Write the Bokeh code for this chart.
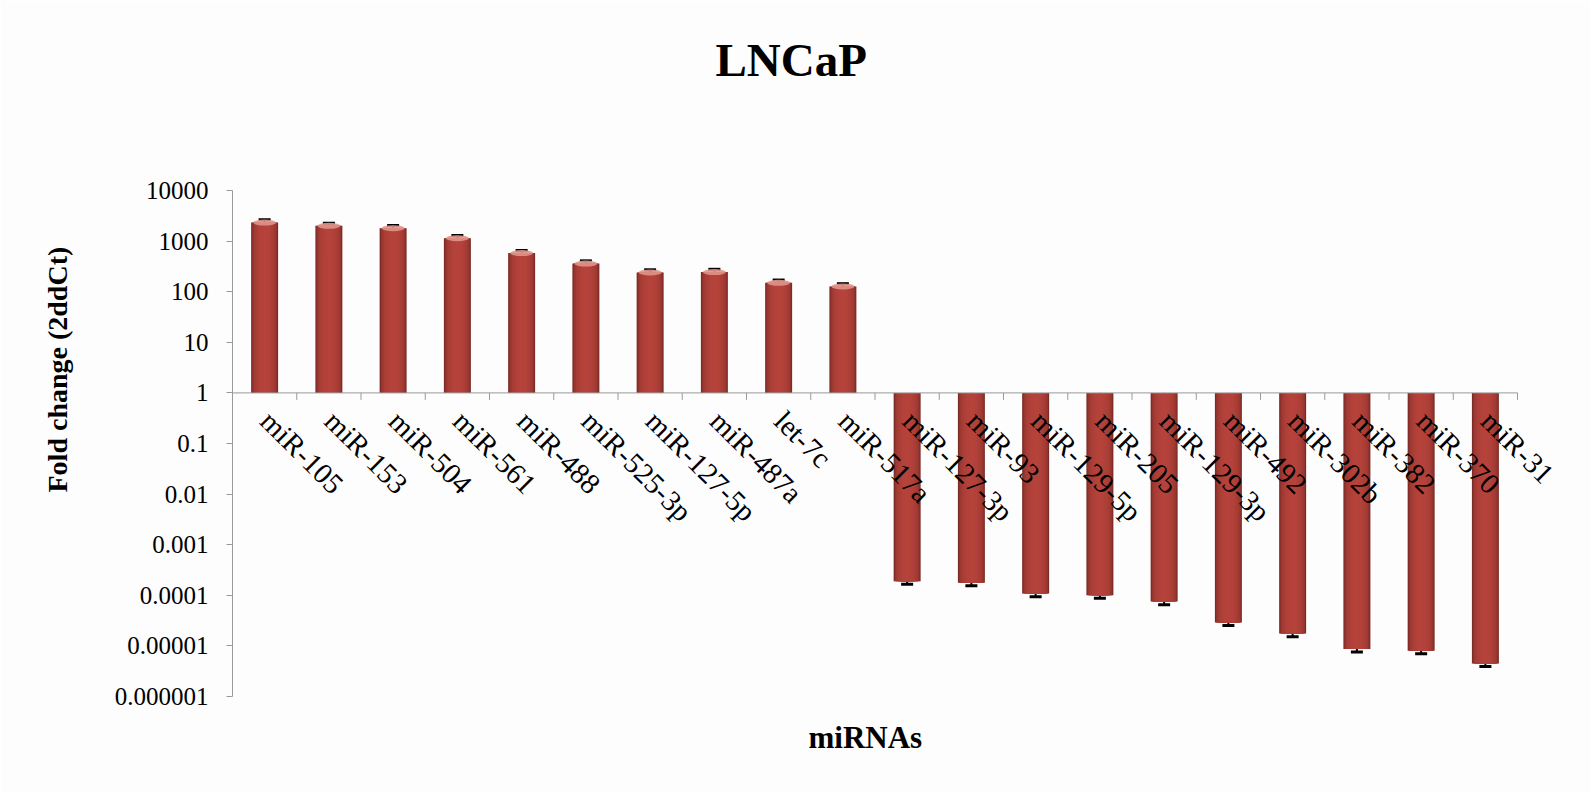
import math

from bokeh.embed import file_html
from bokeh.models import (ColumnDataSource, CustomJSTickFormatter, FixedTicker,
                          LabelSet, Range1d, TeeHead, Title, Whisker)
from bokeh.plotting import figure
from bokeh.resources import INLINE

# Fold change (2^-ddCt) of miRNAs in LNCaP cells
mirnas = ["miR-105", "miR-153", "miR-504", "miR-561", "miR-488", "miR-525-3p",
          "miR-127-5p", "miR-487a", "let-7c", "miR-517a", "miR-127-3p", "miR-93",
          "miR-129-5p", "miR-205", "miR-129-3p", "miR-492", "miR-302b", "miR-382",
          "miR-370", "miR-31"]
fold_change = [2330, 2000, 1800, 1140, 580, 360, 240, 245, 150, 127,
               1.9e-4, 1.78e-4, 1.08e-4, 1.0e-4, 7.5e-5, 2.9e-5, 1.75e-5,
               8.7e-6, 8.0e-6, 4.5e-6]
fold_err = [300, 260, 230, 150, 75, 47, 31, 32, 20, 17,
            2.5e-5, 2.3e-5, 1.4e-5, 1.3e-5, 1.0e-5, 3.8e-6, 2.3e-6,
            1.1e-6, 1.0e-6, 6e-7]
y_ticks = [1e-6, 1e-5, 1e-4, 1e-3, 1e-2, 1e-1, 1, 10, 100, 1000, 10000]

SERIF = "Liberation Serif"
W, H = 1590, 792
n = len(mirnas)

# slot i spans [i, i + 1] on the x scale; some room is left past the
# last slot so its slanted label is not cut at the plot edge
X_END = n + 0.7
LEFT, TOP, BOTTOM = 232, 190, 96
slot_px = 64.25
RIGHT = W - LEFT - int(round(X_END * slot_px))

src = ColumnDataSource(dict(
    x=[i + 0.5 for i in range(n)],
    mirna=mirnas,
    fc=fold_change,
    upper=[v + e for v, e in zip(fold_change, fold_err)],
    lower=[v - e for v, e in zip(fold_change, fold_err)],
    base=[1] * n,
))
pos_src = ColumnDataSource(dict(
    x=[i + 0.5 for i, v in enumerate(fold_change) if v > 1],
    fc=[v for v in fold_change if v > 1],
))

p = figure(width=W, height=H, x_range=Range1d(0, X_END), y_axis_type="log",
           y_range=(1e-6, 1e4), output_backend="svg", toolbar_location=None,
           title=None, min_border_left=LEFT, min_border_right=RIGHT,
           min_border_top=TOP, min_border_bottom=BOTTOM,
           background_fill_color="#fdfdfd", border_fill_color="#fdfdfd",
           outline_line_color=None)
p.xaxis.visible = False
p.xgrid.visible = False
p.ygrid.visible = False

# shaded bars: nested bars, lighter toward the middle, give a rounded look
BAR_W = 0.42
N = 12
edge = (84, 26, 24)
mid = (182, 68, 60)
for k in range(N):
    t = 1 - k / N
    f = math.sqrt(max(0.0, 1 - (t * 0.98) ** 2)) ** 0.55
    col = tuple(int(edge[i] + (mid[i] - edge[i]) * f) for i in range(3))
    p.vbar(x="x", top="fc", bottom="base", width=BAR_W * t, source=src,
           fill_color="#%02x%02x%02x" % col, line_color=None)

# light top face on the upward bars
p.ellipse(x="x", y="fc", width=BAR_W * 0.85, height=6, height_units="screen",
          source=pos_src, fill_color="#e0948a", line_color=None, fill_alpha=0.9)

# error bars
p.add_layout(Whisker(base="x", upper="upper", lower="lower", source=src,
                     line_color="black", line_width=2,
                     upper_head=TeeHead(size=12, line_width=3, line_color="black"),
                     lower_head=TeeHead(size=12, line_width=3, line_color="black")))

# category axis drawn through y = 1, with ticks between the slots
p.segment(x0=0, x1=n, y0=1, y1=1, line_color="#9a9a9a", line_width=1)
p.ray(x=list(range(1, n + 1)), y=1, length=7, length_units="screen",
      angle=-math.pi / 2, line_color="#9a9a9a", line_width=1)
p.add_layout(LabelSet(x="x", y="base", text="mirna", source=src,
                      angle=-math.pi / 4, text_align="left", text_baseline="middle",
                      x_offset=1, y_offset=-23, text_font=SERIF,
                      text_font_size="29px", text_color="black"))

# value axis
ax = p.yaxis[0]
ax.ticker = FixedTicker(ticks=y_ticks)
ax.formatter = CustomJSTickFormatter(code="""
    return tick >= 1 ? tick.toFixed(0) : tick.toFixed(Math.round(-Math.log10(tick)));
""")
ax.minor_tick_line_color = None
ax.axis_line_color = "#9a9a9a"
ax.major_tick_line_color = "#9a9a9a"
ax.major_tick_out = 6
ax.major_tick_in = 0
ax.major_label_standoff = 18
ax.major_label_text_font = SERIF
ax.major_label_text_font_size = "25px"
ax.major_label_text_color = "black"

# titles; an empty title next to the plot area lifts the main title
p.add_layout(Title(text=" ", standoff=87, text_font_size="10px"), "above")
p.add_layout(Title(text="LNCaP", align="left", offset=483, standoff=10,
                   text_font=SERIF, text_font_size="47px",
                   text_font_style="bold", text_color="black"), "above")
p.add_layout(Title(text="Fold change (2ddCt)", align="left", offset=204,
                   standoff=77, text_font=SERIF, text_font_size="28px",
                   text_font_style="bold", text_color="black"), "left")
p.add_layout(Title(text="miRNAs", align="left", offset=576, standoff=42,
                   text_font=SERIF, text_font_size="31px", text_font_style="bold",
                   text_color="black"), "below")

open("out.html", "w").write(file_html(p, INLINE))
